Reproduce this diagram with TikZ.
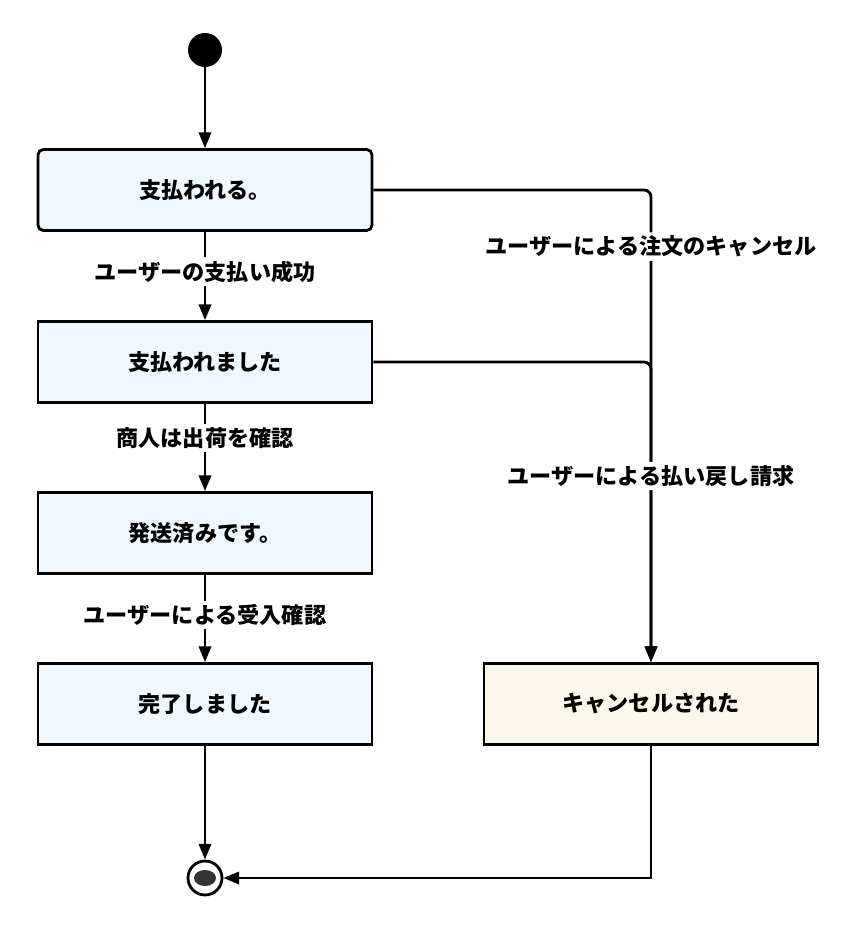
\documentclass[tikz,border=0pt]{standalone}
\usepackage{fontspec}
\setmainfont{Noto Sans CJK JP}
\usetikzlibrary{arrows.meta}
\definecolor{statefill}{HTML}{F0F8FF}
\definecolor{cancelfill}{HTML}{FBF8EA}
\tikzset{
  state/.style={draw, line width=1.6pt, fill=statefill, minimum width=6.68cm, minimum height=1.62cm, font=\fontsize{12.6}{15}\selectfont\bfseries},
  flow/.style={line width=1.6pt, -{Triangle[width=7pt,length=9pt]}},
  lbl/.style={fill=white, inner sep=2pt, font=\fontsize{12.6}{15}\selectfont\bfseries}
}
\begin{document}
\begin{tikzpicture}[x=0.02cm, y=-0.02cm]
    \useasboundingbox (0,0) rectangle (858,933);
    \node[circle, fill=black, minimum size=0.68cm, inner sep=0pt] (init) at (205,50) {};
    \node[state, rounded corners=3pt] (paying) at (205,190) {支払われる。};
    \node[state] (paid) at (205,362) {支払われました};
    \node[state] (shipped) at (205,533) {発送済みです。};
    \node[state] (done) at (205,704) {完了しました};
    \node[state, fill=cancelfill] (cancelled) at (651,704) {キャンセルされた};
    \node[circle, draw, line width=1.6pt, minimum size=0.68cm, inner sep=0pt] (final) at (205,878) {};
    \fill[black!80] (final) ellipse (11 and 8);
    % main line
    \draw[flow] (init) -- (paying);
    \draw[flow] (paying) -- node[lbl, pos=0.45] {ユーザーの支払い成功} (paid);
    \draw[flow] (paid) -- node[lbl, pos=0.39] {商人は出荷を確認} (shipped);
    \draw[flow] (shipped) -- node[lbl, pos=0.46] {ユーザーによる受入確認} (done);
    \draw[flow] (done) -- (final);
    % cancel branch
    \draw[flow, rounded corners=4pt] (paying.east) -| node[lbl, pos=0.56] {ユーザーによる注文のキャンセル} (cancelled.north);
    \draw[flow, rounded corners=4pt] (paid.east) -| node[lbl, pos=0.69] {ユーザーによる払い戻し請求} (cancelled.north);
    \draw[flow] (cancelled.south) |- (final);
\end{tikzpicture}
\end{document}
